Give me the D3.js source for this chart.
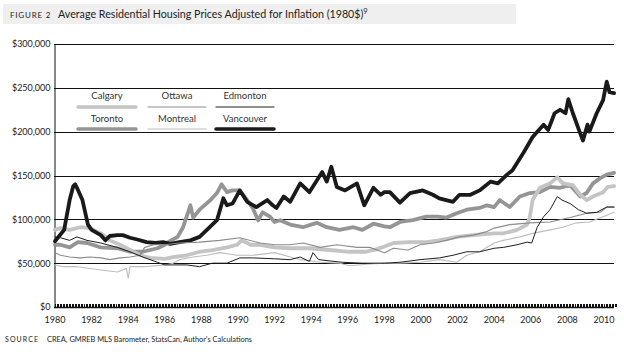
<!DOCTYPE html>
<html><head><meta charset="utf-8">
<script src="https://cdn.jsdelivr.net/npm/d3@7/dist/d3.min.js"></script>
<style>
html,body{margin:0;padding:0;background:#fff;}
svg{display:block;font-family:Lato, "Open Sans", sans-serif;}
</style></head>
<body><svg id="chart" width="624" height="355"></svg>
<script>
const titleLabel = "FIGURE 2";
const titleText = "Average Residential Housing Prices Adjusted for Inflation (1980$)";
const sourceLabel = "SOURCE";
const sourceText = "CREA, GMREB MLS Barometer, StatsCan, Author's Calculations";
const yTicks = [0, 50000, 100000, 150000, 200000, 250000, 300000];
const xTicks = [1980,1982,1984,1986,1988,1990,1992,1994,1996,1998,2000,2002,2004,2006,2008,2010];

const vancouver = [[1980.0,75000],[1980.5,88000],[1980.8,122000],[1981.0,138000],[1981.1,140000],[1981.2,136000],[1981.5,122000],[1981.8,94000],[1982.0,88000],[1982.5,82000],[1982.75,76000],[1983.0,81000],[1983.4,82000],[1983.7,82000],[1984.1,79000],[1984.5,77000],[1985.0,74000],[1985.5,73000],[1985.9,74000],[1986.3,72000],[1986.8,74000],[1987.4,76000],[1987.9,80000],[1988.3,88000],[1988.85,99000],[1989.2,124000],[1989.4,116000],[1989.7,118000],[1990.1,133000],[1990.5,120000],[1991.0,114000],[1991.6,122000],[1991.9,116000],[1992.1,113000],[1992.5,126000],[1992.85,120000],[1993.4,141000],[1993.9,131000],[1994.6,154000],[1994.85,143000],[1995.1,160000],[1995.4,137000],[1995.85,133000],[1996.5,141000],[1996.9,116000],[1997.4,136000],[1997.8,128000],[1998.0,131000],[1998.3,131000],[1998.85,119000],[1999.4,130000],[2000.1,133000],[2000.65,128000],[2001.0,124000],[2001.75,120000],[2002.1,128000],[2002.7,128000],[2003.2,133000],[2003.8,143000],[2004.2,141000],[2004.7,151000],[2005.0,156000],[2005.6,176000],[2006.1,194000],[2006.7,208000],[2006.95,202000],[2007.3,221000],[2007.6,225000],[2007.9,221000],[2008.05,237000],[2008.3,221000],[2008.7,198000],[2008.85,190000],[2009.1,208000],[2009.2,200000],[2009.6,221000],[2009.95,236000],[2010.15,257000],[2010.3,245000],[2010.55,244000]];

const toronto = [[1980.0,71000],[1980.3,71000],[1980.8,68000],[1981.25,74000],[1981.75,73000],[1982.5,68000],[1983.4,67000],[1984.1,63000],[1984.8,63000],[1985.6,67000],[1986.0,71000],[1986.1,73000],[1986.7,80000],[1987.0,91000],[1987.4,116000],[1987.55,102000],[1987.9,111000],[1988.5,122000],[1988.85,130000],[1989.1,140000],[1989.4,131000],[1989.7,133000],[1990.1,133000],[1990.5,122000],[1990.8,113000],[1991.1,99000],[1991.35,108000],[1991.75,103000],[1992.0,97000],[1992.3,99000],[1992.85,94000],[1993.55,91000],[1994.3,96000],[1994.85,91000],[1995.55,88000],[1996.3,91000],[1996.8,88000],[1997.4,95000],[1998.0,92000],[1998.3,91000],[1998.85,97000],[1999.55,99000],[2000.3,103000],[2000.9,103000],[2001.4,102000],[2001.95,107000],[2002.5,111000],[2003.2,113000],[2003.6,116000],[2004.0,114000],[2004.3,122000],[2004.85,114000],[2005.4,126000],[2005.95,130000],[2006.5,131000],[2007.05,137000],[2007.6,136000],[2008.15,139000],[2008.7,126000],[2009.05,130000],[2009.4,141000],[2009.8,147000],[2010.15,151000],[2010.55,153000]];

const calgary = [[1980.0,88000],[1980.3,90000],[1980.8,88000],[1981.4,91000],[1981.9,90000],[1982.5,84000],[1983.0,76000],[1983.55,71000],[1984.1,65000],[1984.65,59000],[1985.2,56000],[1986.0,55000],[1986.45,57000],[1987.2,59000],[1987.9,63000],[1988.6,65000],[1989.4,68000],[1989.95,71000],[1990.2,76000],[1990.7,71000],[1991.2,71000],[1992.0,68000],[1992.85,67000],[1993.9,67000],[1995.0,65000],[1996.1,63000],[1997.0,63000],[1997.6,66000],[1998.0,69000],[1998.5,73000],[1999.4,74000],[2000.3,74000],[2001.0,76000],[2001.95,80000],[2002.85,82000],[2004.0,84000],[2004.5,84000],[2005.25,88000],[2005.8,94000],[2005.95,103000],[2006.1,122000],[2006.5,136000],[2007.05,141000],[2007.45,148000],[2007.75,141000],[2008.3,139000],[2008.7,128000],[2009.05,122000],[2009.4,126000],[2009.95,131000],[2010.2,137000],[2010.55,138000]];

const edmonton = [[1980.0,80000],[1980.3,79000],[1980.8,76000],[1981.2,80000],[1981.75,76000],[1982.5,73000],[1983.4,68000],[1984.1,63000],[1984.8,57000],[1985.6,51000],[1986.0,48000],[1986.45,48000],[1987.2,48000],[1987.9,46000],[1988.6,50000],[1989.4,50000],[1990.1,56000],[1990.8,56000],[1992.0,55000],[1992.85,54000],[1993.4,57000],[1993.9,52000],[1994.1,62000],[1994.4,54000],[1995.7,51000],[1996.8,50000],[1998.0,50000],[1998.85,51000],[1999.95,54000],[2001.0,56000],[2001.75,59000],[2002.5,63000],[2003.2,63000],[2004.0,67000],[2004.5,68000],[2005.25,71000],[2005.8,74000],[2006.05,73000],[2006.35,91000],[2006.7,103000],[2007.05,111000],[2007.45,126000],[2007.7,122000],[2008.15,118000],[2008.6,111000],[2009.05,107000],[2009.6,108000],[2010.15,114000],[2010.55,114000]];

const ottawa = [[1980.0,62000],[1980.3,59000],[1980.8,57000],[1981.4,56000],[1981.9,57000],[1982.5,56000],[1983.0,54000],[1983.55,56000],[1984.1,57000],[1984.65,59000],[1984.9,68000],[1985.4,71000],[1986.0,71000],[1986.8,73000],[1987.9,74000],[1989.0,76000],[1990.1,79000],[1991.2,73000],[1992.0,71000],[1992.85,71000],[1993.55,73000],[1994.5,68000],[1995.4,71000],[1996.5,68000],[1997.2,68000],[1998.0,62000],[1998.5,67000],[1999.3,65000],[1999.95,71000],[2000.7,73000],[2001.4,76000],[2002.1,80000],[2002.85,82000],[2003.6,86000],[2004.0,90000],[2004.85,94000],[2005.95,96000],[2007.05,97000],[2008.15,102000],[2009.05,107000],[2009.8,108000],[2010.15,114000],[2010.55,114000]];

const montreal = [[1980.0,48000],[1980.45,46000],[1981.2,46000],[1981.9,44000],[1982.6,42000],[1983.4,40000],[1983.9,44000],[1984.0,33000],[1984.1,46000],[1984.9,46000],[1986.0,48000],[1986.45,50000],[1986.8,54000],[1987.55,57000],[1988.3,59000],[1989.0,62000],[1989.95,59000],[1990.8,59000],[1992.0,62000],[1993.4,54000],[1994.5,51000],[1995.55,50000],[1996.1,47000],[1997.2,49000],[1998.0,50000],[1998.85,50000],[1999.95,51000],[2001.0,54000],[2001.95,51000],[2002.5,59000],[2003.2,63000],[2004.0,73000],[2004.5,76000],[2005.4,80000],[2006.1,84000],[2007.05,88000],[2007.75,91000],[2008.5,96000],[2009.2,97000],[2009.95,103000],[2010.55,108000]];

const seriesNames = ["Calgary","Ottawa","Edmonton","Toronto","Montreal","Vancouver"];
const seriesData = {Calgary: calgary, Ottawa: ottawa, Edmonton: edmonton, Toronto: toronto, Montreal: montreal, Vancouver: vancouver};
const styles = {
  Calgary:   {color:"#c4c4c4", width:3.8},
  Ottawa:    {color:"#8c8c8c", width:1.1},
  Edmonton:  {color:"#1e1e1e", width:1.0},
  Toronto:   {color:"#959595", width:3.8},
  Montreal:  {color:"#bdbdbd", width:1.1},
  Vancouver: {color:"#1a1a1a", width:3.8}
};
const drawOrder = ["Toronto","Calgary","Vancouver","Montreal","Ottawa","Edmonton"];

const svg = d3.select("#chart");
const plotLeft = 54, plotRight = 614, plotTop = 44, plotBottom = 307;
const x = d3.scaleLinear().domain([1980, 2010]).range([55, 604]);
const y = d3.scaleLinear().domain([0, 300000]).range([plotBottom, plotTop]);

// Title band
svg.append("rect").attr("x",3).attr("y",4).attr("width",513).attr("height",20).attr("fill","#efefef");
const tt = svg.append("text").attr("y",18).attr("fill","#222");
tt.append("tspan").attr("x",10).attr("font-size",8).attr("letter-spacing",0.8).text(titleLabel);
tt.append("tspan").attr("x",58).attr("font-size",10.7).text(titleText);
tt.append("tspan").attr("font-size",7.5).attr("dy",-4).text("9");

// Gridlines
svg.append("g").selectAll("line").data(yTicks.filter(d => d > 0)).join("line")
  .attr("x1", plotLeft).attr("x2", plotRight).attr("y1", d => Math.round(y(d)) + 0.5).attr("y2", d => Math.round(y(d)) + 0.5)
  .attr("stroke","#111").attr("stroke-width",1);

// Y axis
const yAxis = svg.append("g").attr("transform",`translate(${plotLeft + 0.5},0)`)
  .call(d3.axisLeft(y).tickValues(yTicks).tickSize(0).tickPadding(4).tickFormat(d => "$" + d3.format(",")(d)));
yAxis.select(".domain").attr("stroke","#111");
yAxis.selectAll("text").attr("font-size",9).attr("fill","#222").attr("font-family","Lato, sans-serif");

// X axis baseline with monthly ticks
const monthly = d3.range(0, 30.6*12 + 1).map(i => 1980 + i/12);
svg.append("g").selectAll("line").data(monthly).join("line")
  .attr("x1", d => Math.round(x(d)) + 0.5).attr("x2", d => Math.round(x(d)) + 0.5)
  .attr("y1", plotBottom).attr("y2", plotBottom - 3)
  .attr("stroke","#111").attr("stroke-width",1);
svg.append("line").attr("x1",plotLeft).attr("x2",plotRight).attr("y1",plotBottom+0.5).attr("y2",plotBottom+0.5)
  .attr("stroke","#111").attr("stroke-width",1.5);
svg.append("g").selectAll("text").data(xTicks).join("text")
  .attr("x", d => x(d)).attr("y", 323).attr("text-anchor","middle")
  .attr("font-size",9).attr("fill","#222").text(d => d);

// Lines
const line = d3.line().x(d => x(d[0])).y(d => y(d[1])).curve(d3.curveLinear);
svg.append("g").selectAll("path").data(drawOrder).join("path")
  .attr("d", n => line(seriesData[n]))
  .attr("fill","none").attr("stroke", n => styles[n].color)
  .attr("stroke-width", n => styles[n].width)
  .attr("stroke-linejoin","round").attr("stroke-linecap","round");

// Legend
const legendCols = [107, 177, 245];
const legendRows = [{text:99, line:107}, {text:122, line:129}];
const lg = svg.append("g");
seriesNames.forEach((n, i) => {
  const cx = legendCols[i % 3], r = legendRows[Math.floor(i / 3)];
  lg.append("text").attr("x", cx).attr("y", r.text).attr("text-anchor","middle")
    .attr("font-size",9.5).attr("fill","#333").text(n);
  lg.append("line").attr("x1", cx - 29).attr("x2", cx + 29).attr("y1", r.line).attr("y2", r.line)
    .attr("stroke", styles[n].color).attr("stroke-width", styles[n].width > 3 ? 3.5 : 1.2)
    .attr("stroke-linecap","round");
});

// Source
const st = svg.append("text").attr("y",342).attr("fill","#222");
st.append("tspan").attr("x",5).attr("font-size",7).attr("letter-spacing",1.1).text(sourceLabel);
st.append("tspan").attr("x",47).attr("font-size",7.4).text(sourceText);
</script></body></html>
